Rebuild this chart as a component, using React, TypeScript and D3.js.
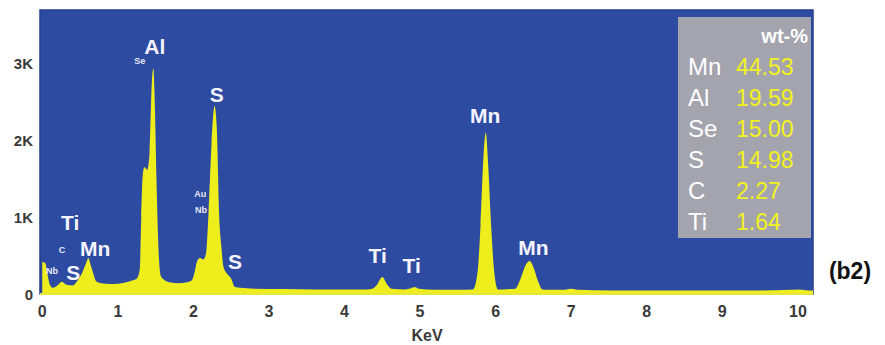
import React from 'react';
import * as d3 from 'd3';

// EDS spectrum (keV, counts)
const energy = [
  0.0, 0.04, 0.07, 0.1, 0.14, 0.2, 0.26, 0.32, 0.4, 0.47, 0.53, 0.58, 0.61, 0.64, 0.68, 0.71, 0.78, 0.9,
  1.0, 1.1, 1.2, 1.25, 1.29, 1.31, 1.33, 1.35, 1.39, 1.42, 1.45, 1.47, 1.49, 1.51, 1.54, 1.57, 1.62,
  1.7, 1.8, 1.9, 1.98, 2.02, 2.05, 2.09, 2.13, 2.17, 2.2, 2.24, 2.28, 2.31, 2.34, 2.37, 2.4, 2.45, 2.5,
  2.55, 2.62, 2.8, 3.2, 3.6, 4.0, 4.3, 4.37, 4.43, 4.5, 4.56, 4.62, 4.8, 4.88, 4.93, 4.98, 5.2, 5.5,
  5.7, 5.76, 5.8, 5.84, 5.87, 5.9, 5.94, 5.98, 6.03, 6.1, 6.2, 6.26, 6.33, 6.4, 6.45, 6.5, 6.56, 6.62,
  6.7, 6.9, 7.0, 7.1, 7.5, 8.0, 8.5, 9.0, 9.5, 9.9, 10.0, 10.1, 10.2,
];
const counts = [
  420, 400, 250, 120, 80, 110, 160, 120, 110, 180, 280, 400, 470, 380, 250, 170, 140, 130,
  135, 150, 180, 200, 320, 1000, 1550, 1650, 1620, 1850, 2750, 2940, 2450, 1550, 550, 230, 180,
  150, 140, 150, 180, 300, 430, 470, 450, 540, 1050, 1950, 2450, 2150, 1050, 620, 350, 260, 200,
  90, 80, 70, 65, 60, 60, 60, 70, 120, 220, 130, 70, 60, 75, 90, 70, 55, 55,
  60, 280, 900, 1800, 2100, 1700, 900, 300, 60, 60, 65, 70, 200, 380, 430, 350, 170, 60,
  55, 55, 70, 55, 45, 45, 45, 45, 45, 55, 60, 50, 45,
];

const xTicks = [0, 1, 2, 3, 4, 5, 6, 7, 8, 9, 10];
const yTicks = [0, 1000, 2000, 3000];
const yTickLabels = ['0', '1K', '2K', '3K'];

// peak annotations: name, energy (keV), count level of the label
const peakNames = ['Al', 'S', 'S', 'Ti', 'Mn', 'S', 'Ti', 'Ti', 'Mn', 'Mn'];
const peakEnergy = [1.49, 2.31, 2.55, 0.37, 0.7, 0.41, 4.44, 4.89, 5.86, 6.5];
const peakLevel = [3218, 2593, 417, 938, 599, 274, 508, 365, 2332, 612];

const minorNames = ['Se', 'Au', 'Nb', 'C', 'Nb'];
const minorEnergy = [1.29, 2.09, 2.1, 0.26, 0.13];
const minorLevel = [3036, 1303, 1095, 573, 300];

const elements = ['Mn', 'Al', 'Se', 'S', 'C', 'Ti'];
const wtPercent = ['44.53', '19.59', '15.00', '14.98', '2.27', '1.64'];

const App = () => {
  const left = 40;
  const right = 813;
  const top = 10;
  const bottom = 294;

  const x = d3.scaleLinear().domain([-0.03, 10.2]).range([left, right]);
  const y = d3.scaleLinear().domain([0, 3700]).range([bottom, top]);

  const spectrum = energy.map((e, i) => ({ e, c: counts[i] }));
  const area = d3
    .area<{ e: number; c: number }>()
    .x((d) => x(d.e))
    .y0(y(0))
    .y1((d) => y(d.c))
    .curve(d3.curveMonotoneX);

  const font = '"Liberation Sans", Arial, sans-serif';

  return (
    <svg
      width={885}
      height={345}
      style={{ position: 'absolute', left: 0, top: 0, background: '#fff' }}
      fontFamily={font}
    >
      <defs>
        <clipPath id="plot">
          <rect x={left} y={top} width={right - left} height={bottom - top} />
        </clipPath>
      </defs>
      <rect x={left} y={top} width={right - left} height={bottom - top} fill="#2e4ba2" stroke="#253f8c" strokeWidth={1.5} />
      <path d={area(spectrum) || ''} fill="#eeee1c" clipPath="url(#plot)" />
      <line x1={left} x2={right} y1={bottom} y2={bottom} stroke="#e6e640" strokeWidth={2} />

      {yTicks.map((t, i) => (
        <text key={t} x={33} y={y(t)} textAnchor="end" dominantBaseline="central" fontSize={15} fontWeight="bold" fill="#3a3a3a">
          {yTickLabels[i]}
        </text>
      ))}
      {xTicks.map((t) => (
        <text key={t} x={x(t)} y={317} textAnchor="middle" fontSize={16} fontWeight="bold" fill="#3a3a3a">
          {t}
        </text>
      ))}
      <text x={427} y={341} textAnchor="middle" fontSize={16} fontWeight="bold" fill="#3a3a3a">
        KeV
      </text>

      {peakNames.map((n, i) => (
        <text key={'p' + i} x={x(peakEnergy[i])} y={y(peakLevel[i])} textAnchor="middle" dominantBaseline="central" fontSize={21} fontWeight="bold" fill="#f4f4ff">
          {n}
        </text>
      ))}
      {minorNames.map((n, i) => (
        <text key={'m' + i} x={x(minorEnergy[i])} y={y(minorLevel[i])} textAnchor="middle" dominantBaseline="central" fontSize={9} fontWeight="bold" fill="#e8e8f4">
          {n}
        </text>
      ))}

      <rect x={678} y={17} width={133} height={221} fill="#a4a4ae" />
      <text x={808} y={43} textAnchor="end" fontSize={20} fontWeight="bold" fill="#ffffff">
        wt-%
      </text>
      {elements.map((el, i) => (
        <g key={el}>
          <text x={688} y={75 + i * 31} fontSize={24} fill="#ffffff">
            {el}
          </text>
          <text x={736} y={75 + i * 31} fontSize={23} fill="#f2f21e">
            {wtPercent[i]}
          </text>
        </g>
      ))}

      <text x={850} y={279} textAnchor="middle" fontSize={23} fontWeight="bold" fill="#111">
        (b2)
      </text>
    </svg>
  );
};

export default App;
